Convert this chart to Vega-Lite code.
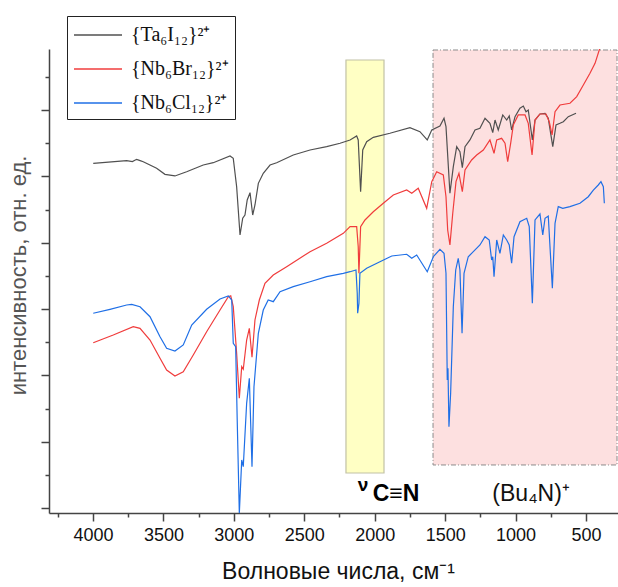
{
  "$schema": "https://vega.github.io/schema/vega-lite/v6.json",
  "width": 569,
  "height": 464,
  "autosize": {"type": "none"},
  "padding": {"left": 49, "top": 49, "right": 0, "bottom": 74},
  "background": "white",
  "config": {"view": {"stroke": null}, "font": "Liberation Sans"},
  "datasets": {
    "bands": [
      {"band": "cn", "x1": 2204, "x2": 1934, "y1": 0.528, "y2": 6.757},
      {"band": "bu", "x1": 1586, "x2": 280, "y1": 0.649, "y2": 6.908}
    ],
    "spectra": [
      {"s":"Ta","w":3998,"y":5.199},{"s":"Ta","w":3761,"y":5.238},{"s":"Ta","w":3720,"y":5.225},{"s":"Ta","w":3690,"y":5.259},{"s":"Ta","w":3665,"y":5.24},{"s":"Ta","w":3643,"y":5.223},{"s":"Ta","w":3548,"y":5.124},{"s":"Ta","w":3489,"y":5.033},{"s":"Ta","w":3418,"y":5.008},{"s":"Ta","w":3335,"y":5.072},{"s":"Ta","w":3217,"y":5.173},{"s":"Ta","w":3146,"y":5.208},{"s":"Ta","w":3027,"y":5.309},{"s":"Ta","w":3004,"y":5.274},{"s":"Ta","w":2980,"y":4.846},{"s":"Ta","w":2956,"y":4.118},{"s":"Ta","w":2937,"y":4.370},{"s":"Ta","w":2921,"y":4.419},{"s":"Ta","w":2905,"y":4.646},{"s":"Ta","w":2885,"y":4.756},{"s":"Ta","w":2866,"y":4.419},{"s":"Ta","w":2850,"y":4.570},{"s":"Ta","w":2826,"y":4.897},{"s":"Ta","w":2791,"y":5.048},{"s":"Ta","w":2743,"y":5.173},{"s":"Ta","w":2696,"y":5.208},{"s":"Ta","w":2578,"y":5.324},{"s":"Ta","w":2459,"y":5.400},{"s":"Ta","w":2341,"y":5.450},{"s":"Ta","w":2246,"y":5.501},{"s":"Ta","w":2175,"y":5.551},{"s":"Ta","w":2128,"y":5.611},{"s":"Ta","w":2117,"y":5.551},{"s":"Ta","w":2100,"y":4.771},{"s":"Ta","w":2085,"y":5.400},{"s":"Ta","w":2057,"y":5.525},{"s":"Ta","w":2010,"y":5.591},{"s":"Ta","w":1892,"y":5.652},{"s":"Ta","w":1750,"y":5.736},{"s":"Ta","w":1679,"y":5.676},{"s":"Ta","w":1627,"y":5.551},{"s":"Ta","w":1595,"y":5.701},{"s":"Ta","w":1537,"y":5.762},{"s":"Ta","w":1508,"y":5.878},{"s":"Ta","w":1494,"y":5.751},{"s":"Ta","w":1466,"y":4.747},{"s":"Ta","w":1442,"y":5.148},{"s":"Ta","w":1418,"y":5.450},{"s":"Ta","w":1395,"y":5.374},{"s":"Ta","w":1378,"y":5.133},{"s":"Ta","w":1359,"y":5.450},{"s":"Ta","w":1324,"y":5.551},{"s":"Ta","w":1288,"y":5.701},{"s":"Ta","w":1253,"y":5.727},{"s":"Ta","w":1217,"y":5.878},{"s":"Ta","w":1182,"y":5.802},{"s":"Ta","w":1162,"y":5.661},{"s":"Ta","w":1146,"y":5.852},{"s":"Ta","w":1123,"y":5.701},{"s":"Ta","w":1091,"y":5.928},{"s":"Ta","w":1063,"y":5.852},{"s":"Ta","w":1045,"y":5.913},{"s":"Ta","w":1028,"y":5.701},{"s":"Ta","w":1004,"y":5.902},{"s":"Ta","w":969,"y":6.029},{"s":"Ta","w":945,"y":6.063},{"s":"Ta","w":926,"y":5.977},{"s":"Ta","w":910,"y":6.003},{"s":"Ta","w":881,"y":5.551},{"s":"Ta","w":862,"y":5.852},{"s":"Ta","w":827,"y":5.943},{"s":"Ta","w":791,"y":5.953},{"s":"Ta","w":768,"y":5.878},{"s":"Ta","w":736,"y":5.450},{"s":"Ta","w":713,"y":5.777},{"s":"Ta","w":685,"y":5.802},{"s":"Ta","w":661,"y":5.827},{"s":"Ta","w":626,"y":5.902},{"s":"Ta","w":571,"y":5.953},

      {"s":"Br","w":3998,"y":2.493},{"s":"Br","w":3856,"y":2.609},{"s":"Br","w":3714,"y":2.735},{"s":"Br","w":3666,"y":2.710},{"s":"Br","w":3595,"y":2.534},{"s":"Br","w":3524,"y":2.258},{"s":"Br","w":3477,"y":2.081},{"s":"Br","w":3418,"y":1.991},{"s":"Br","w":3359,"y":2.056},{"s":"Br","w":3288,"y":2.308},{"s":"Br","w":3193,"y":2.659},{"s":"Br","w":3098,"y":2.986},{"s":"Br","w":3039,"y":3.187},{"s":"Br","w":3022,"y":3.202},{"s":"Br","w":3004,"y":3.036},{"s":"Br","w":2980,"y":2.333},{"s":"Br","w":2961,"y":1.655},{"s":"Br","w":2944,"y":2.131},{"s":"Br","w":2933,"y":2.092},{"s":"Br","w":2909,"y":2.534},{"s":"Br","w":2890,"y":2.710},{"s":"Br","w":2871,"y":2.273},{"s":"Br","w":2850,"y":2.836},{"s":"Br","w":2819,"y":3.137},{"s":"Br","w":2779,"y":3.389},{"s":"Br","w":2720,"y":3.514},{"s":"Br","w":2625,"y":3.640},{"s":"Br","w":2459,"y":3.866},{"s":"Br","w":2341,"y":3.992},{"s":"Br","w":2223,"y":4.143},{"s":"Br","w":2175,"y":4.243},{"s":"Br","w":2128,"y":4.243},{"s":"Br","w":2117,"y":3.941},{"s":"Br","w":2112,"y":3.540},{"s":"Br","w":2100,"y":4.243},{"s":"Br","w":2069,"y":4.344},{"s":"Br","w":2010,"y":4.469},{"s":"Br","w":1939,"y":4.596},{"s":"Br","w":1868,"y":4.721},{"s":"Br","w":1773,"y":4.796},{"s":"Br","w":1737,"y":4.747},{"s":"Br","w":1691,"y":4.822},{"s":"Br","w":1631,"y":4.520},{"s":"Br","w":1595,"y":4.922},{"s":"Br","w":1560,"y":5.072},{"s":"Br","w":1513,"y":5.023},{"s":"Br","w":1494,"y":4.695},{"s":"Br","w":1482,"y":4.193},{"s":"Br","w":1466,"y":3.967},{"s":"Br","w":1446,"y":4.445},{"s":"Br","w":1423,"y":4.922},{"s":"Br","w":1402,"y":5.048},{"s":"Br","w":1378,"y":4.771},{"s":"Br","w":1359,"y":5.098},{"s":"Br","w":1312,"y":5.249},{"s":"Br","w":1276,"y":5.324},{"s":"Br","w":1229,"y":5.400},{"s":"Br","w":1182,"y":5.551},{"s":"Br","w":1153,"y":5.350},{"s":"Br","w":1134,"y":5.551},{"s":"Br","w":1099,"y":5.576},{"s":"Br","w":1075,"y":5.501},{"s":"Br","w":1056,"y":5.223},{"s":"Br","w":1035,"y":5.501},{"s":"Br","w":1016,"y":5.777},{"s":"Br","w":981,"y":5.928},{"s":"Br","w":933,"y":5.928},{"s":"Br","w":910,"y":5.802},{"s":"Br","w":883,"y":5.324},{"s":"Br","w":862,"y":5.852},{"s":"Br","w":827,"y":5.943},{"s":"Br","w":784,"y":5.943},{"s":"Br","w":761,"y":5.827},{"s":"Br","w":741,"y":5.626},{"s":"Br","w":720,"y":5.977},{"s":"Br","w":685,"y":6.078},{"s":"Br","w":614,"y":6.104},{"s":"Br","w":566,"y":6.204},{"s":"Br","w":519,"y":6.380},{"s":"Br","w":472,"y":6.557},{"s":"Br","w":436,"y":6.707},{"s":"Br","w":406,"y":6.908},{"s":"Br","w":379,"y":7.089},

      {"s":"Cl","w":3998,"y":2.937},{"s":"Cl","w":3879,"y":2.997},{"s":"Cl","w":3761,"y":3.062},{"s":"Cl","w":3725,"y":3.072},{"s":"Cl","w":3666,"y":3.036},{"s":"Cl","w":3595,"y":2.885},{"s":"Cl","w":3524,"y":2.584},{"s":"Cl","w":3477,"y":2.409},{"s":"Cl","w":3418,"y":2.368},{"s":"Cl","w":3359,"y":2.459},{"s":"Cl","w":3299,"y":2.760},{"s":"Cl","w":3193,"y":2.997},{"s":"Cl","w":3098,"y":3.152},{"s":"Cl","w":3039,"y":3.198},{"s":"Cl","w":3015,"y":3.137},{"s":"Cl","w":3004,"y":2.484},{"s":"Cl","w":2987,"y":2.433},{"s":"Cl","w":2976,"y":1.327},{"s":"Cl","w":2961,"y":-0.080},{"s":"Cl","w":2944,"y":0.724},{"s":"Cl","w":2933,"y":0.623},{"s":"Cl","w":2909,"y":1.579},{"s":"Cl","w":2890,"y":1.956},{"s":"Cl","w":2871,"y":0.623},{"s":"Cl","w":2857,"y":1.830},{"s":"Cl","w":2826,"y":2.635},{"s":"Cl","w":2791,"y":2.986},{"s":"Cl","w":2756,"y":3.137},{"s":"Cl","w":2720,"y":3.112},{"s":"Cl","w":2672,"y":3.262},{"s":"Cl","w":2578,"y":3.338},{"s":"Cl","w":2459,"y":3.413},{"s":"Cl","w":2341,"y":3.489},{"s":"Cl","w":2223,"y":3.540},{"s":"Cl","w":2175,"y":3.564},{"s":"Cl","w":2133,"y":3.590},{"s":"Cl","w":2124,"y":3.238},{"s":"Cl","w":2121,"y":2.937},{"s":"Cl","w":2112,"y":3.087},{"s":"Cl","w":2105,"y":3.540},{"s":"Cl","w":2057,"y":3.615},{"s":"Cl","w":1963,"y":3.715},{"s":"Cl","w":1879,"y":3.801},{"s":"Cl","w":1773,"y":3.827},{"s":"Cl","w":1737,"y":3.766},{"s":"Cl","w":1702,"y":3.816},{"s":"Cl","w":1627,"y":3.564},{"s":"Cl","w":1584,"y":3.790},{"s":"Cl","w":1537,"y":3.902},{"s":"Cl","w":1508,"y":3.842},{"s":"Cl","w":1494,"y":3.540},{"s":"Cl","w":1485,"y":1.931},{"s":"Cl","w":1480,"y":2.107},{"s":"Cl","w":1473,"y":1.226},{"s":"Cl","w":1461,"y":1.730},{"s":"Cl","w":1442,"y":3.036},{"s":"Cl","w":1425,"y":3.590},{"s":"Cl","w":1407,"y":3.766},{"s":"Cl","w":1395,"y":3.590},{"s":"Cl","w":1380,"y":2.635},{"s":"Cl","w":1366,"y":3.540},{"s":"Cl","w":1336,"y":3.790},{"s":"Cl","w":1300,"y":3.866},{"s":"Cl","w":1253,"y":3.967},{"s":"Cl","w":1217,"y":4.092},{"s":"Cl","w":1187,"y":4.042},{"s":"Cl","w":1170,"y":3.741},{"s":"Cl","w":1162,"y":3.790},{"s":"Cl","w":1153,"y":3.489},{"s":"Cl","w":1134,"y":4.042},{"s":"Cl","w":1111,"y":3.842},{"s":"Cl","w":1087,"y":4.118},{"s":"Cl","w":1063,"y":4.042},{"s":"Cl","w":1045,"y":3.967},{"s":"Cl","w":1028,"y":3.691},{"s":"Cl","w":1011,"y":4.092},{"s":"Cl","w":969,"y":4.318},{"s":"Cl","w":921,"y":4.370},{"s":"Cl","w":903,"y":4.243},{"s":"Cl","w":881,"y":3.087},{"s":"Cl","w":862,"y":4.344},{"s":"Cl","w":827,"y":4.434},{"s":"Cl","w":807,"y":4.118},{"s":"Cl","w":791,"y":4.370},{"s":"Cl","w":768,"y":4.404},{"s":"Cl","w":739,"y":3.314},{"s":"Cl","w":720,"y":4.294},{"s":"Cl","w":697,"y":4.545},{"s":"Cl","w":665,"y":4.520},{"s":"Cl","w":614,"y":4.545},{"s":"Cl","w":543,"y":4.596},{"s":"Cl","w":484,"y":4.695},{"s":"Cl","w":448,"y":4.796},{"s":"Cl","w":413,"y":4.872},{"s":"Cl","w":394,"y":4.922},{"s":"Cl","w":377,"y":4.846},{"s":"Cl","w":370,"y":4.596}
    ]
  },
  "layer": [
    {
      "data": {"name": "bands"},
      "transform": [{"filter": "datum.band == 'cn'"}],
      "mark": {"type": "rect", "fill": "#ffffc4", "stroke": "#c2c2a6", "strokeWidth": 1.2},
      "encoding": {
        "x": {"field": "x1", "type": "quantitative",
              "scale": {"domain": [273, 4312], "reverse": true, "nice": false, "zero": false},
              "axis": {"orient": "bottom", "values": [4250, 3750, 3250, 2750, 2250, 1750, 1250, 750], "labels": false, "domain": false, "grid": false, "tickSize": 4, "tickWidth": 1.5, "tickColor": "#444", "title": null}},
        "x2": {"field": "x2"},
        "y": {"field": "y1", "type": "quantitative",
              "scale": {"domain": [-0.0754, 6.923], "nice": false, "zero": false},
              "axis": {"orient": "left", "values": [0.5, 1.5, 2.5, 3.5, 4.5, 5.5, 6.5], "labels": false, "domain": false, "grid": false, "tickSize": 4, "tickWidth": 1.5, "tickColor": "#444", "title": null}},
        "y2": {"field": "y2"}
      }
    },
    {
      "data": {"name": "bands"},
      "transform": [{"filter": "datum.band == 'bu'"}],
      "mark": {"type": "rect", "fill": "#fde0e0", "stroke": "#8c8c8c", "strokeWidth": 1, "strokeDash": [5, 2, 1, 2]},
      "encoding": {
        "x": {"field": "x1", "type": "quantitative", "scale": {"domain": [273, 4312], "reverse": true, "nice": false, "zero": false}, "axis": null},
        "x2": {"field": "x2"},
        "y": {"field": "y1", "type": "quantitative", "scale": {"domain": [-0.0754, 6.923], "nice": false, "zero": false}, "axis": null},
        "y2": {"field": "y2"}
      }
    },
    {
      "data": {"name": "spectra"},
      "mark": {"type": "line", "strokeWidth": 1.2, "clip": true},
      "encoding": {
        "x": {"field": "w", "type": "quantitative",
              "scale": {"domain": [273, 4312], "reverse": true, "nice": false, "zero": false},
              "axis": {"orient": "bottom", "values": [500, 1000, 1500, 2000, 2500, 3000, 3500, 4000], "format": "d", "labelFontSize": 18, "labelColor": "#111", "labelFont": "Liberation Sans", "labelPadding": 5, "labelFlush": false, "tickSize": 8, "tickWidth": 1.5, "tickColor": "#444", "domainColor": "#444", "domainWidth": 1.5, "grid": false,
                       "title": "Волновые числа, см⁻¹", "titleFont": "Liberation Sans", "titleFontSize": 23, "titleFontWeight": "normal", "titleColor": "#111", "titlePadding": 16, "titleX": 289}},
        "y": {"field": "y", "type": "quantitative",
              "scale": {"domain": [-0.0754, 6.923], "nice": false, "zero": false},
              "axis": {"orient": "left", "values": [0, 1, 2, 3, 4, 5, 6], "labels": false, "tickSize": 8, "tickWidth": 1.5, "tickColor": "#444", "domainColor": "#444", "domainWidth": 1.5, "grid": false,
                       "title": "интенсивность, отн. ед.", "titleFont": "Liberation Sans", "titleFontSize": 22, "titleFontWeight": "normal", "titleColor": "#555", "titlePadding": 10, "titleY": 226}},
        "color": {"field": "s", "type": "nominal",
                  "scale": {"domain": ["Ta", "Br", "Cl"], "range": ["#505050", "#f03c3c", "#1f6fe6"]},
                  "legend": {"orient": "none", "legendX": 18, "legendY": -33, "title": null,
                             "strokeColor": "#222", "fillColor": "white", "padding": 6,
                             "symbolType": "M-1,0H3", "symbolSize": 576, "symbolStrokeWidth": 1.6,
                             "labelFont": "Liberation Serif", "labelFontSize": 20, "labelColor": "#111", "labelOffset": 32, "rowPadding": 11,
                             "labelExpr": "datum.value == 'Ta' ? '{Ta₆I₁₂}²⁺' : datum.value == 'Br' ? '{Nb₆Br₁₂}²⁺' : '{Nb₆Cl₁₂}²⁺'"}}
      }
    },
    {
      "data": {"values": [{"w": 2082, "y": 0.25, "t": "ν"}]},
      "mark": {"type": "text", "fontSize": 19, "fontWeight": "bold", "align": "center", "baseline": "alphabetic", "color": "#000"},
      "encoding": {
        "x": {"field": "w", "type": "quantitative", "scale": {"domain": [273, 4312], "reverse": true, "nice": false, "zero": false}, "axis": null},
        "y": {"field": "y", "type": "quantitative", "scale": {"domain": [-0.0754, 6.923], "nice": false, "zero": false}, "axis": null},
        "text": {"field": "t"}
      }
    },
    {
      "data": {"values": [{"w": 1849, "y": 0.11, "t": "C≡N"}]},
      "mark": {"type": "text", "fontSize": 23, "fontWeight": "bold", "align": "center", "baseline": "alphabetic", "color": "#000"},
      "encoding": {
        "x": {"field": "w", "type": "quantitative", "scale": {"domain": [273, 4312], "reverse": true, "nice": false, "zero": false}, "axis": null},
        "y": {"field": "y", "type": "quantitative", "scale": {"domain": [-0.0754, 6.923], "nice": false, "zero": false}, "axis": null},
        "text": {"field": "t"}
      }
    },
    {
      "data": {"values": [{"w": 890, "y": 0.11, "t": "(Bu₄N)⁺"}]},
      "mark": {"type": "text", "fontSize": 23, "align": "center", "baseline": "alphabetic", "color": "#111"},
      "encoding": {
        "x": {"field": "w", "type": "quantitative", "scale": {"domain": [273, 4312], "reverse": true, "nice": false, "zero": false}, "axis": null},
        "y": {"field": "y", "type": "quantitative", "scale": {"domain": [-0.0754, 6.923], "nice": false, "zero": false}, "axis": null},
        "text": {"field": "t"}
      }
    }
  ],
  "resolve": {"axis": {"x": "independent", "y": "independent"}}
}
